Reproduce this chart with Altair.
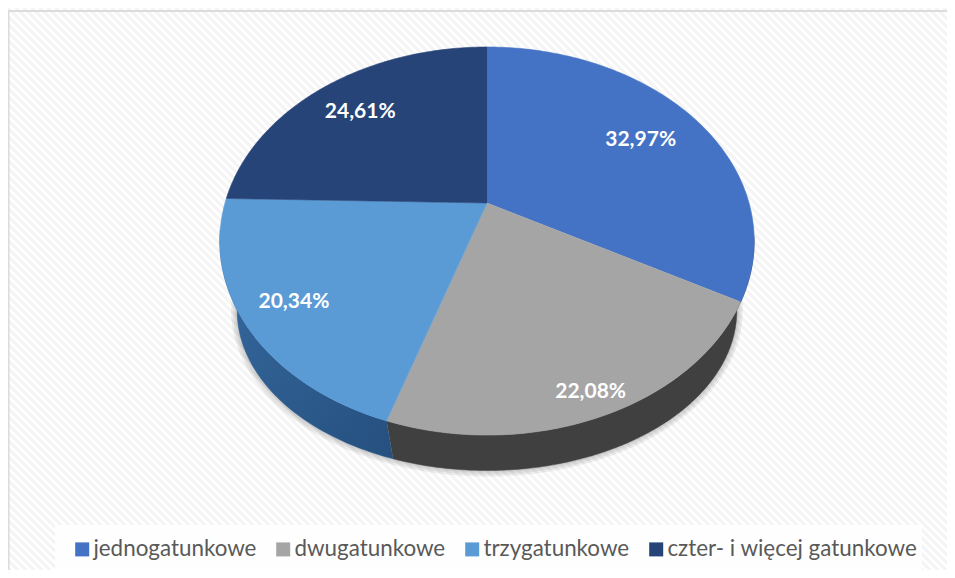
import math
import altair as alt
import pandas as pd

categories = ["jednogatunkowe", "dwugatunkowe", "trzygatunkowe", "czter- i więcej gatunkowe"]
shares = [32.97, 22.08, 20.34, 24.61]
labels = ["32,97%", "22,08%", "20,34%", "24,61%"]
colors = ["#4472C4", "#A5A5A5", "#5B9BD5", "#264478"]
label_radius = [0.75, 0.88, 0.80, 0.79]

# perspective pie geometry (layout constants, in reference pixels)
CX, K = 487, 0.196
TOP = dict(a=262, b=186.6, y0=203)
RIM = dict(a=245, b=154, y0=279)


def project(deg, rim, r=1.0):
    t = math.radians(deg)
    u, v = math.sin(t), math.cos(t)
    d = 1 + K * v
    return CX + rim["a"] * r * u / d, rim["y0"] - rim["b"] * r * v / d


edges = [0.0]
for s in shares:
    edges.append(edges[-1] + s * 3.6 * 100 / sum(shares))


def span(a, b):
    n = max(2, int(abs(b - a)) + 1)
    return [a + (b - a) * i / n for i in range(n + 1)]


# top surface
top = []
for c, a, b in zip(categories, edges[:-1], edges[1:]):
    pts = [(CX, TOP["y0"])] + [project(t, TOP) for t in span(a, b)]
    for i, (x, y) in enumerate(pts):
        top.append(dict(cat=c, i=i, x=x, y=y))

# side walls
side_gray = span(100, edges[2])
side_blue = span(edges[2], 262)


def wall(thetas, name):
    pts = [project(t, TOP) for t in thetas] + [project(t, RIM) for t in reversed(thetas)]
    return [dict(part=name, i=i, x=x, y=y) for i, (x, y) in enumerate(pts)]


wall_gray = pd.DataFrame(wall(side_gray, "gray"))
wall_blue = pd.DataFrame(wall(side_blue, "blue"))

# soft shadow under the rim
rim_pts = [project(t, RIM) for t in span(98, 264)]
shadow = pd.DataFrame([dict(i=i, x=x, y=y) for i, (x, y) in enumerate(rim_pts)])

# labels
lab = []
for c, l, a, b, r in zip(categories, labels, edges[:-1], edges[1:], label_radius):
    x, y = project((a + b) / 2, TOP, r)
    lab.append(dict(cat=c, label=l, x=x, y=y))
lab = pd.DataFrame(lab)

# diagonal background hatch
PERIOD = 8
hatch = []
for o in range(-600, 960, PERIOD):
    hatch.append(dict(x=o, x2=o + 620, y=0, y2=620))
hatch = pd.DataFrame(hatch)

X = alt.Scale(domain=[8, 947], range=[0, 939], nice=False, zero=False)
Y = alt.Scale(domain=[8, 570], range=[0, 562], nice=False, zero=False)
x = alt.X("x:Q", scale=X, axis=None)
y = alt.Y("y:Q", scale=Y, axis=None)

hatch_layer = alt.Chart(hatch).mark_rule(stroke="#F4F4F4", strokeWidth=2.8, clip=True).encode(
    x=x, x2="x2:Q", y=y, y2="y2:Q"
)
plate = alt.Chart(pd.DataFrame([dict(x=55, x2=922, y=525, y2=572)])).mark_rect(
    fill="#FFFFFF", opacity=0.85, clip=True
).encode(x=x, x2="x2:Q", y=y, y2="y2:Q")
frame = alt.Chart(pd.DataFrame([dict(x=8.5, x2=980, y=11, y2=620)])).mark_rect(
    fill="transparent", stroke="#DCDCDC", strokeWidth=2, clip=True
).encode(x=x, x2="x2:Q", y=y, y2="y2:Q")

shadows = [
    alt.Chart(shadow).mark_line(stroke="#7F7F7F", strokeWidth=w, opacity=0.13, clip=True).encode(
        x=x, y=y, order="i:Q"
    )
    for w in (12, 8, 4)
]

gray_wall = alt.Chart(wall_gray).mark_line(
    filled=True, fill="#404040", stroke="#404040", strokeWidth=0.5
).encode(x=x, y=y, order="i:Q")
blue_wall = alt.Chart(wall_blue).mark_line(
    filled=True,
    fill=alt.Gradient(
        gradient="linear", x1=0, y1=0, x2=1, y2=1,
        stops=[alt.GradientStop(color="#37699F", offset=0), alt.GradientStop(color="#25507F", offset=1)],
    ),
    stroke="#2B5A8C", strokeWidth=0.5,
).encode(x=x, y=y, order="i:Q")

scale = alt.Scale(domain=categories, range=colors)
top_layer = alt.Chart(pd.DataFrame(top)).mark_line(filled=True, strokeWidth=0.6).encode(
    x=x,
    y=y,
    order="i:Q",
    fill=alt.Fill(
        "cat:N",
        scale=scale,
        legend=alt.Legend(
            title=None, orient="none", legendX=63, legendY=530, columns=4, direction="horizontal",
            symbolType="square", symbolSize=196, symbolStrokeWidth=0, labelFont="Lato", labelFontSize=22.4,
            labelColor="#595959", labelLimit=400, columnPadding=15, labelOffset=0, padding=0,
        ),
    ),
    stroke=alt.Stroke("cat:N", scale=scale, legend=None),
)
text = alt.Chart(lab).mark_text(
    font="Lato", fontSize=21, fontWeight="bold", color="#FFFFFF", align="center", baseline="middle", dy=2
).encode(x=x, y=y, text="label:N")

chart = alt.layer(hatch_layer, plate, frame, *shadows, gray_wall, blue_wall, top_layer, text).properties(
    width=939, height=562, padding=0, autosize=alt.AutoSizeParams(type="none"), background="#FFFFFF"
).configure_view(stroke=None)

chart.save("out.html", embed_options={"renderer": "svg", "actions": False})
